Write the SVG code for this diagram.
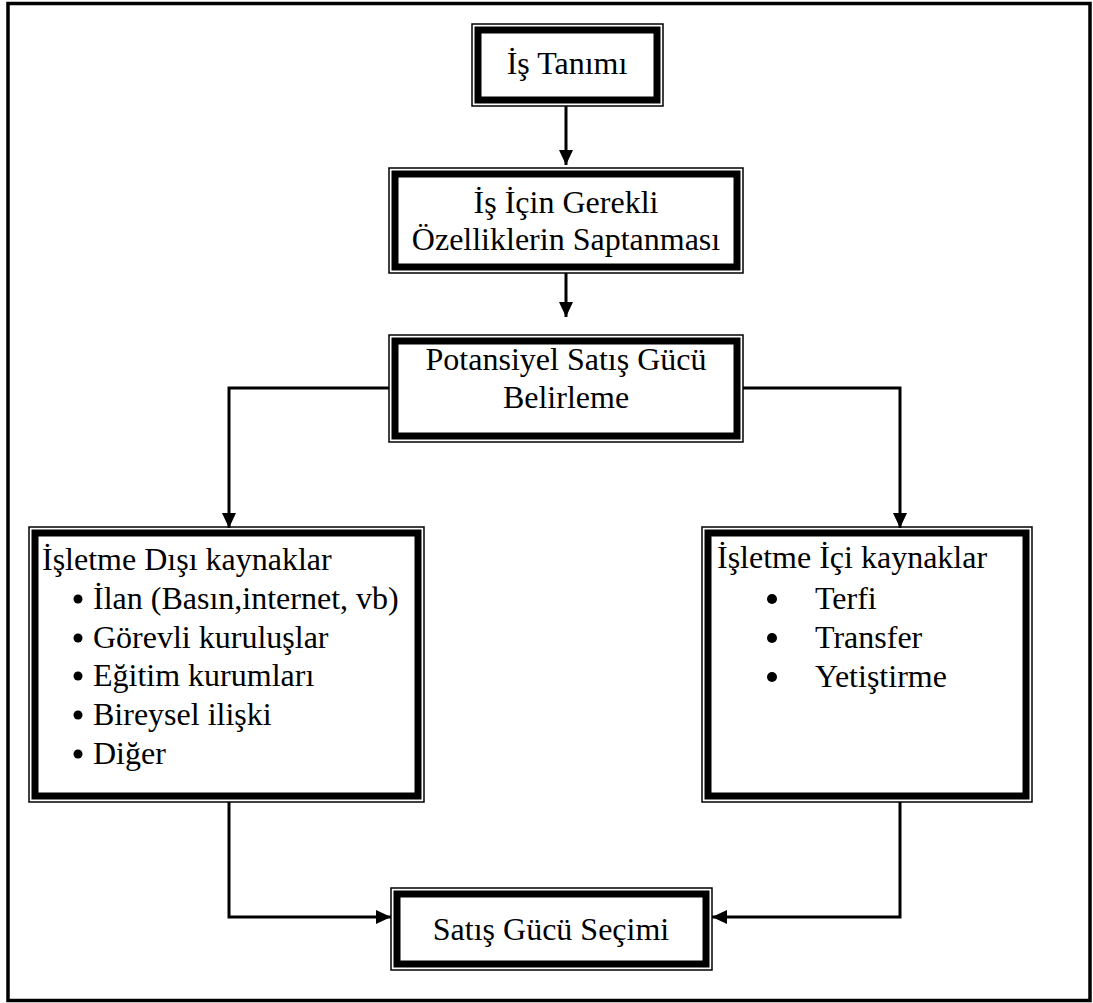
<svg xmlns="http://www.w3.org/2000/svg" width="1093" height="1003" viewBox="0 0 1093 1003">
  <style>
    .thin { fill: none; stroke: #000; stroke-width: 1.5; }
    .thick { fill: #fff; stroke: #000; stroke-width: 7; }
    .mid { text-anchor: middle; }
    .conn { fill: none; stroke: #000; stroke-width: 3; }
    .dot { fill: #000; }
  </style>
  <defs>
    <marker id="arrow" markerUnits="userSpaceOnUse" markerWidth="16" markerHeight="16" viewBox="0 0 16 16" refX="15" refY="8" orient="auto">
      <path d="M0,1 L15,8 L0,15 Z" fill="#000"/>
    </marker>
  </defs>

  <!-- page frame -->
  <rect x="8" y="3.5" width="1082" height="997" fill="#fff" stroke="#000" stroke-width="3.5"/>

  <!-- connectors -->
  <g id="connectors">
    <line class="conn" x1="566" y1="106" x2="566" y2="165" marker-end="url(#arrow)"/>
    <line class="conn" x1="566" y1="273" x2="566" y2="317" marker-end="url(#arrow)"/>
    <path class="conn" d="M389,388 H229 V528" marker-end="url(#arrow)"/>
    <path class="conn" d="M743,388 H900 V528" marker-end="url(#arrow)"/>
    <path class="conn" d="M229,802 V917 H391" marker-end="url(#arrow)"/>
    <path class="conn" d="M900,802 V917 H712" marker-end="url(#arrow)"/>
  </g>

  <g font-family="Liberation Serif, serif" font-size="32" fill="#000">
    <!-- İş Tanımı -->
    <g id="is-tanimi">
      <rect class="thin" x="472" y="24" width="191" height="82"/>
      <rect class="thick" x="478" y="30" width="179" height="70"/>
      <text class="mid" x="567" y="74">İş Tanımı</text>
    </g>

    <!-- İş İçin Gerekli Özelliklerin Saptanması -->
    <g id="ozellikler">
      <rect class="thin" x="389" y="168" width="354" height="105"/>
      <rect class="thick" x="395" y="174" width="342" height="93"/>
      <text class="mid" x="566" y="213">İş İçin Gerekli</text>
      <text class="mid" x="566" y="250">Özelliklerin Saptanması</text>
    </g>

    <!-- Potansiyel Satış Gücü Belirleme -->
    <g id="potansiyel">
      <rect class="thin" x="389" y="335" width="354" height="107"/>
      <rect class="thick" x="395" y="341" width="342" height="95"/>
      <text class="mid" x="566" y="370">Potansiyel Satış Gücü</text>
      <text class="mid" x="566" y="408">Belirleme</text>
    </g>

    <!-- İşletme Dışı kaynaklar -->
    <g id="disi-kaynaklar">
      <rect class="thin" x="29" y="527" width="395" height="275"/>
      <rect class="thick" x="35" y="533" width="383" height="263"/>
      <text x="42" y="570">İşletme Dışı kaynaklar</text>
      <circle class="dot" cx="78" cy="599" r="4.5"/>
      <text x="93" y="609">İlan (Basın,internet, vb)</text>
      <circle class="dot" cx="78" cy="638" r="4.5"/>
      <text x="93" y="648">Görevli kuruluşlar</text>
      <circle class="dot" cx="78" cy="676" r="4.5"/>
      <text x="93" y="686">Eğitim kurumları</text>
      <circle class="dot" cx="78" cy="715" r="4.5"/>
      <text x="93" y="725">Bireysel ilişki</text>
      <circle class="dot" cx="78" cy="754" r="4.5"/>
      <text x="93" y="764">Diğer</text>
    </g>

    <!-- İşletme İçi kaynaklar -->
    <g id="ici-kaynaklar">
      <rect class="thin" x="702" y="527" width="330" height="275"/>
      <rect class="thick" x="708" y="533" width="318" height="263"/>
      <text x="717" y="568">İşletme İçi kaynaklar</text>
      <circle class="dot" cx="772" cy="599" r="5"/>
      <text x="815" y="609">Terfi</text>
      <circle class="dot" cx="772" cy="638" r="5"/>
      <text x="815" y="648">Transfer</text>
      <circle class="dot" cx="772" cy="677" r="5"/>
      <text x="815" y="687">Yetiştirme</text>
    </g>

    <!-- Satış Gücü Seçimi -->
    <g id="secim">
      <rect class="thin" x="391" y="888" width="321" height="82"/>
      <rect class="thick" x="397" y="894" width="309" height="70"/>
      <text class="mid" x="551" y="940">Satış Gücü Seçimi</text>
    </g>
  </g>
</svg>
